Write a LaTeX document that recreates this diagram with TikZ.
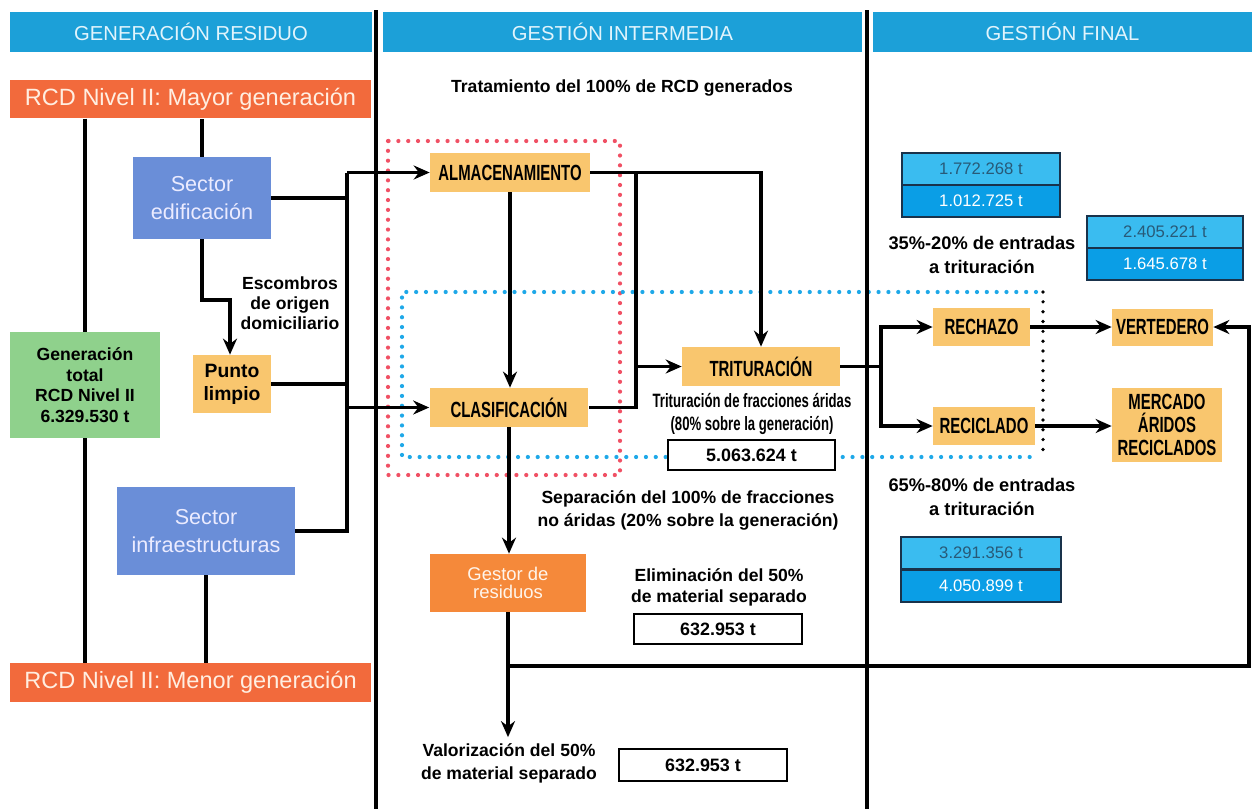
\documentclass[tikz,border=0pt]{standalone}
\usepackage{fontspec}
\setmainfont{Liberation Sans}
\newfontfamily\condfont[FakeStretch=0.68]{Liberation Sans}
\usetikzlibrary{arrows.meta,positioning,calc}

\definecolor{headblue}{RGB}{28,160,216}
\definecolor{headtext}{RGB}{225,244,252}
\definecolor{rcdred}{RGB}{242,106,60}
\definecolor{rcdtext}{RGB}{255,238,225}
\definecolor{secblue}{RGB}{106,142,216}
\definecolor{totgreen}{RGB}{143,209,140}
\definecolor{procyel}{RGB}{249,198,110}
\definecolor{gestorg}{RGB}{245,137,58}
\definecolor{numlight}{RGB}{58,188,240}
\definecolor{numdark}{RGB}{10,158,230}
\definecolor{numtext}{RGB}{40,90,120}
\definecolor{numedge}{RGB}{25,50,75}
\definecolor{dotred}{RGB}{240,80,100}
\definecolor{dotblue}{RGB}{30,168,232}

\begin{document}
\begin{tikzpicture}[
  x=0.02cm, y=-0.02cm,
  >={Stealth[length=3.2mm,width=2.8mm]},
  box/.style={inner sep=1pt, align=center},
  head/.style={box, fill=headblue, text=headtext, minimum height=0.8cm,
               font=\fontsize{11.5}{13}\selectfont},
  rcd/.style={box, fill=rcdred, text=rcdtext, minimum width=7.22cm, minimum height=0.77cm,
              font=\fontsize{13.4}{15}\selectfont},
  sector/.style={box, fill=secblue, text=white!92!blue, font=\fontsize{12.3}{16.4}\selectfont},
  proc/.style={box, fill=procyel, font=\condfont\bfseries\fontsize{12.5}{13}\selectfont},
  val/.style={box, draw, line width=1.2pt, fill=white, font=\bfseries\fontsize{10.2}{12}\selectfont},
  numtop/.style={box, draw=numedge, line width=0.9pt, fill=numlight, text=numtext,
                 minimum height=0.64cm, font=\fontsize{9.5}{11}\selectfont},
  numbot/.style={numtop, fill=numdark, text=white},
  lbl/.style={align=center, font=\bfseries\fontsize{10}{13}\selectfont},
  conn/.style={line width=1.8pt},
  arr/.style={conn, ->},
  reddots/.style={draw=dotred, line width=2.4pt, line cap=round, dash pattern=on 0pt off 5.6pt},
  bluedots/.style={reddots, draw=dotblue},
  blackdots/.style={reddots, draw=black, line width=2.1pt},
]
\useasboundingbox (0,0) rectangle (1252,809);

% ---- dotted frames ---------------------------------------------------------
\draw[reddots] (388,141) rectangle (620,475);
\draw[bluedots] (1036,292) -- (402,292) -- (402,457) -- (1036,457);
\draw[blackdots] (1043,292) -- (1043,457);

% ---- columns ---------------------------------------------------------------
\draw[conn] (376,10) -- (376,809);
\draw[conn] (867,10) -- (867,809);
\node[head, minimum width=7.24cm] (hGen) at (191,32)    {GENERACIÓN RESIDUO};
\node[head, minimum width=9.58cm] (hInt) at (622.5,32)  {GESTIÓN INTERMEDIA};
\node[head, minimum width=7.58cm] (hFin) at (1062.5,32) {GESTIÓN FINAL};

% ---- generación residuo ----------------------------------------------------
\node[rcd] (rcdMay) at (190.5,99)    {RCD Nivel II: Mayor generación};
\node[rcd] (rcdMen) at (190.5,682.5) {RCD Nivel II: Menor generación};
\node[box, fill=totgreen, minimum width=3cm, minimum height=2.12cm,
      font=\bfseries\fontsize{10}{11.7}\selectfont] (total) at (85,385)
      {Generación\\total\\RCD Nivel II\\6.329.530 t};
\node[sector, minimum width=2.76cm, minimum height=1.64cm] (edif) at (202,198) {Sector\\edificación};
\node[box, fill=procyel, minimum width=1.56cm, minimum height=1.16cm,
      font=\bfseries\fontsize{11}{13}\selectfont] (punto) at (232,384) {Punto\\limpio};
\node[sector, minimum width=3.56cm, minimum height=1.76cm] (infra) at (206,531) {Sector\\infraestructuras};
\node[lbl, font=\bfseries\fontsize{10}{11.3}\selectfont] (escomb) at (290,303)
      {Escombros\\de origen\\domiciliario};

% ---- gestión intermedia ----------------------------------------------------
\node[lbl] (tratTxt) at (622,88) {Tratamiento del 100\% de RCD generados};
\node[proc, minimum width=3.2cm, minimum height=0.78cm]  (almac)  at (510,172.5) {ALMACENAMIENTO};
\node[proc, minimum width=3.18cm, minimum height=0.78cm] (clasif) at (509,407.5) {CLASIFICACIÓN};
\node[proc, minimum width=3.16cm, minimum height=0.78cm] (trit)   at (761,366.5) {TRITURACIÓN};
\node[lbl, font=\condfont\bfseries\fontsize{11}{13}\selectfont] (tritTxt) at (752,414)
      {Trituración de fracciones áridas\\(80\% sobre la generación)};
\node[val, minimum width=3.34cm, minimum height=0.6cm] (tritVal) at (751.5,455) {5.063.624 t};
\node[lbl] (sepTxt) at (688,510) {Separación del 100\% de fracciones\\no áridas (20\% sobre la generación)};
\node[box, fill=gestorg, text=white!92!orange, minimum width=3.12cm, minimum height=1.16cm,
      font=\fontsize{10.5}{10.5}\selectfont] (gestor) at (508,583) {Gestor de\\residuos};
\node[lbl, font=\bfseries\fontsize{10}{12}\selectfont] (elimTxt) at (719,587)
      {Eliminación del 50\%\\de material separado};
\node[val, minimum width=3.36cm, minimum height=0.6cm] (elimVal) at (718,629) {632.953 t};
\node[lbl] (valTxt) at (509,763) {Valorización del 50\%\\de material separado};
\node[val, minimum width=3.36cm, minimum height=0.64cm] (valVal) at (703,765) {632.953 t};

% ---- gestión final ---------------------------------------------------------
\node[numtop, minimum width=3.16cm] (nA1) at (981,169)  {1.772.268 t};
\node[numbot, minimum width=3.16cm] (nA2) at (981,201)  {1.012.725 t};
\node[numtop, minimum width=3.12cm] (nB1) at (1165,232) {2.405.221 t};
\node[numbot, minimum width=3.12cm] (nB2) at (1165,264) {1.645.678 t};
\node[lbl, font=\bfseries\fontsize{10.4}{13.6}\selectfont] (txt35) at (982,255)
      {35\%-20\% de entradas\\a trituración};
\node[proc, minimum width=1.94cm, minimum height=0.76cm] (rech)  at (981.5,327) {RECHAZO};
\node[proc, minimum width=2.04cm, minimum height=0.76cm] (recic) at (984,426)   {RECICLADO};
\node[proc, minimum width=2.02cm, minimum height=0.74cm] (vert)  at (1162.5,327) {VERTEDERO};
\node[proc, minimum width=2.2cm, minimum height=1.48cm] (merc) at (1167,425)
      {MERCADO\\ÁRIDOS\\RECICLADOS};
\node[lbl, font=\bfseries\fontsize{10.4}{13.6}\selectfont] (txt65) at (982,497)
      {65\%-80\% de entradas\\a trituración};
\node[numtop, minimum width=3.2cm] (nC1) at (981,553) {3.291.356 t};
\node[numbot, minimum width=3.2cm] (nC2) at (981,586) {4.050.899 t};

% ---- connectors: generación ------------------------------------------------
\draw[conn] (rcdMay.south -| total.north) -- (total.north);
\draw[conn] (total.south) -- (total.south |- rcdMen.north);
\draw[conn] (edif.north) -- (edif.north |- rcdMay.south);
\draw[conn] (infra.south) -- (infra.south |- rcdMen.north);
\coordinate (esc) at (230,300);
\draw[arr] (edif.south) |- (esc) -- (esc |- punto.north);
\coordinate (busT) at (347,172.5);
\draw[conn] (edif.east) -- (edif.east -| busT);
\draw[conn] (punto.east) -- (punto.east -| busT);
\draw[conn] (infra.east) -- (infra.east -| busT) -- (busT);
\draw[arr] (busT) -- (almac.west);
\draw[arr] (busT |- clasif.west) -- (clasif.west);

% ---- connectors: intermedia ------------------------------------------------
\draw[arr] (almac.south) -- (almac.south |- clasif.north);
\draw[arr] (almac.east) -| (trit.north);
\coordinate (mbus) at (636,172.5);
\draw[conn] (mbus) -- (mbus |- clasif.east) -- (clasif.east);
\draw[arr] (mbus |- trit.west) -- (trit.west);
\draw[arr] (clasif.south) -- (clasif.south |- gestor.north);
\draw[arr] (gestor.south) -- (gestor.south |- valTxt.north);

% ---- connectors: final -----------------------------------------------------
\coordinate (rbus) at (881,366.5);
\draw[conn] (trit.east) -- (rbus);
\draw[arr] (rbus) |- (rech.west);
\draw[arr] (rbus) |- (recic.west);
\draw[arr] (rech.east) -- (rech.east -| vert.west);
\draw[arr] (recic.east) -- (recic.east -| merc.west);
\coordinate (ret) at (1249,666);
\draw[arr] (gestor.south |- ret) -- (ret) |- (vert.east);
\end{tikzpicture}
\end{document}
